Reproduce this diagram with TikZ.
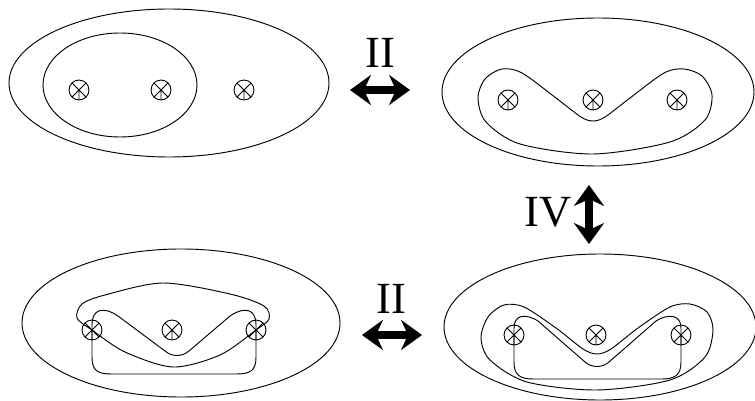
\documentclass[tikz,border=0pt]{standalone}
\usepackage{fontspec}
\setmainfont{Liberation Serif}
\usetikzlibrary{arrows.meta}

\begin{document}
\begin{tikzpicture}[x=0.03cm, y=-0.03cm, line width=0.8pt,
  pole/.style={draw, circle, minimum size=17pt, inner sep=0pt, outer sep=0pt},
  move/.style={line width=7pt,
    {Stealth[length=18pt,width=26pt,inset=6pt,line width=0pt]}-{Stealth[length=18pt,width=26pt,inset=6pt,line width=0pt]}},
  lab/.style={font=\fontsize{38}{40}\selectfont, anchor=base, inner sep=0pt}]
\useasboundingbox (0,0) rectangle (755,401);
% top left
\draw (169,83) ellipse [x radius=160, y radius=74];
\draw (120,85) ellipse [x radius=77, y radius=52];
\node[pole] (a1) at (79,90) {};
\node[pole] (a2) at (161,90) {};
\node[pole] (a3) at (244,90) {};
% top right
\draw (598,92) ellipse [x radius=156, y radius=74];
\draw plot[smooth cycle] coordinates {(478,98) (485,79) (502,69) (522,73) (556,98) (581,117)
  (593,121) (605,117) (630,98) (664,73) (684,69) (702,76) (712,95) (705,120) (670,142)
  (593,154) (520,144) (486,122)};
\node[pole] (b1) at (508,100) {};
\node[pole] (b2) at (593,100) {};
\node[pole] (b3) at (677,100) {};
% bottom left
\draw (181,323) ellipse [x radius=159, y radius=74];
\draw plot[smooth cycle] coordinates {(173,367) (125,352) (92,330) (77,318) (82,304) (105,295)
  (163,283) (230,294) (264,306) (269,319) (256,330) (220,355)};
\draw (92,345) -- (92,325) .. controls (92,309) and (103,306) .. (118,316) -- (165,351)
  .. controls (172,357) and (182,357) .. (189,351) -- (230,316)
  .. controls (245,306) and (256,309) .. (256,325) -- (256,357)
  .. controls (256,371) and (250,374) .. (236,374) -- (112,374)
  .. controls (98,374) and (92,371) .. (92,357) -- cycle;
\node[pole] (c1) at (92,330) {};
\node[pole] (c2) at (172,330) {};
\node[pole] (c3) at (256,330) {};
% bottom right
\draw (600,327) ellipse [x radius=156, y radius=73];
\draw plot[smooth cycle] coordinates {(481,338) (488,317) (504,305) (524,307) (556,328)
  (583,349) (597,354) (611,349) (638,328) (670,307) (690,304) (707,312) (713,330)
  (705,357) (670,380) (597,390) (527,382) (490,360)};
\draw (514,345) -- (514,328) .. controls (514,315) and (525,313) .. (538,321) -- (585,362)
  .. controls (592,368) and (602,368) .. (609,362) -- (656,321)
  .. controls (669,313) and (681,315) .. (681,328) -- (681,362)
  .. controls (681,375) and (675,379) .. (662,379) -- (533,379)
  .. controls (520,379) and (514,375) .. (514,362) -- cycle;
\node[pole] (d1) at (514,335) {};
\node[pole] (d2) at (596,335) {};
\node[pole] (d3) at (681,335) {};
\foreach \p in {a1,a2,a3,b1,b2,b3,c1,c2,c3,d1,d2,d3}
  \draw (\p.north west) -- (\p.south east) (\p.north east) -- (\p.south west) (\p.center) -- (\p.south);
% moves
\node[lab] (m1) at (380,68) {II};
\node[lab] (m2) at (391,313) {II};
\node[lab] (m3) at (548,227) {IV};
\coordinate (m1l) at (350,90);
\coordinate (m1r) at (410,90);
\coordinate (m2l) at (362,335);
\coordinate (m2r) at (422,335);
\coordinate (m3t) at (589,185);
\coordinate (m3b) at (589,244);
\draw[move] (m1l) -- (m1r);
\draw[move] (m2l) -- (m2r);
\draw[move] (m3t) -- (m3b);
\end{tikzpicture}
\end{document}
